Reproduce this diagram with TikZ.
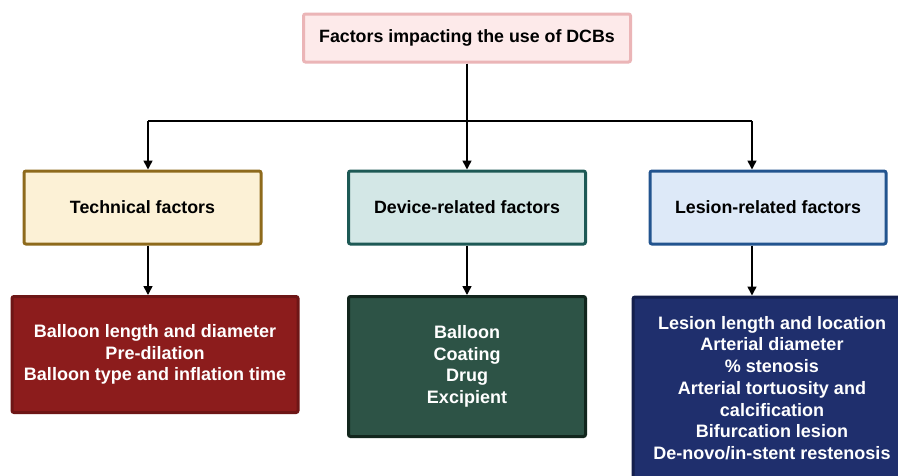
\documentclass[tikz,border=0pt]{standalone}
\usepackage{fontspec}
\setmainfont{Liberation Sans}
\usetikzlibrary{arrows.meta}
\definecolor{topfill}{HTML}{FDEAEA}
\definecolor{topdraw}{HTML}{EBB5B7}
\definecolor{techfill}{HTML}{FCF1D6}
\definecolor{techdraw}{HTML}{8E6A1C}
\definecolor{devfill}{HTML}{D3E7E6}
\definecolor{devdraw}{HTML}{1D5955}
\definecolor{lesfill}{HTML}{DDE9F8}
\definecolor{lesdraw}{HTML}{22548F}
\definecolor{techdark}{HTML}{8C1C1C}
\definecolor{techdarkdraw}{HTML}{6E1616}
\definecolor{devdark}{HTML}{2D5346}
\definecolor{devdarkdraw}{HTML}{12261D}
\definecolor{lesdark}{HTML}{1F2F6D}
\definecolor{lesdarkdraw}{HTML}{141F4C}
\tikzset{
  box/.style={rounded corners=2pt, line width=3pt, inner sep=0pt, align=center,
    font=\fontsize{17.8}{21}\selectfont\bfseries},
  dbox/.style={rounded corners=2pt, line width=3pt, inner sep=0pt, align=center, text=white,
    font=\fontsize{18}{21.6}\selectfont\bfseries},
  conn/.style={line width=1.6pt, -{Triangle[length=9pt,width=9pt]}},
  plain/.style={line width=1.6pt}
}
\begin{document}
\begin{tikzpicture}[x=1pt,y=-1pt]
\useasboundingbox (0,0) rectangle (898,475);
\fill[white] (0,0) rectangle (898,475);
\begin{scope}
\clip (0,0) rectangle (898,475);
% top
\node[box, draw=topdraw, fill=topfill, minimum width=327, minimum height=48] (top) at (467,38) {Factors impacting the use of DCBs};
% level 2
\node[box, draw=techdraw, fill=techfill, minimum width=237, minimum height=73] (tech) at (142.5,207.5) {Technical factors};
\node[box, draw=devdraw, fill=devfill, minimum width=237, minimum height=73] (dev) at (467,207.5) {Device-related factors};
\node[box, draw=lesdraw, fill=lesfill, minimum width=236, minimum height=73] (les) at (768,207.5) {Lesion-related factors};
% level 3
\node[dbox, draw=techdarkdraw, fill=techdark, minimum width=286, minimum height=116] (techd) at (155,354.5) {Balloon length and diameter\\Pre-dilation\\Balloon type and inflation time};
\node[dbox, draw=devdarkdraw, fill=devdark, minimum width=237, minimum height=140] (devd) at (467,366.5) {Balloon\\Coating\\Drug\\Excipient};
\node[dbox, draw=lesdarkdraw, fill=lesdark, minimum width=268, minimum height=190] (lesd) at (767,392) {};
\node[text=white, align=center, font=\fontsize{18}{21.7}\selectfont\bfseries] (lest) at (772,388) {Lesion length and location\\Arterial diameter\\\% stenosis\\Arterial tortuosity and\\calcification\\Bifurcation lesion\\De-novo/in-stent restenosis};
% connectors
\coordinate (jl) at (148,121);
\coordinate (jr) at (752,121);
\draw[plain] (top.south) -- (top.south |- jl);
\draw[plain] (jl) -- (jr);
\draw[conn] (top.south) -- (dev.north);
\draw[conn] (jl) -- (jl |- tech.north);
\draw[conn] (jr) -- (jr |- les.north);
\draw[conn] (tech.south -| jl) -- (jl |- techd.north);
\draw[conn] (dev.south) -- (devd.north);
\draw[conn] (les.south -| jr) -- (jr |- lesd.north);
\end{scope}
\end{tikzpicture}
\end{document}
